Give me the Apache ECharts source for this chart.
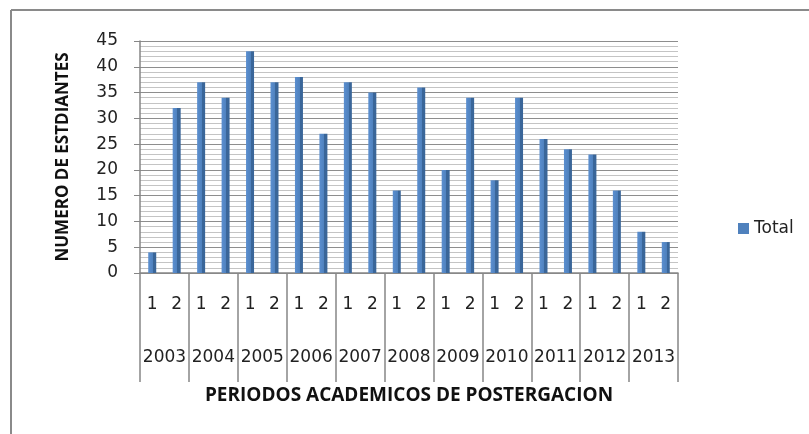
<!DOCTYPE html>
<html>
<head>
<meta charset="utf-8">
<script src="https://cdn.jsdelivr.net/npm/echarts@6/dist/echarts.min.js"></script>
<style>
  html, body { margin: 0; padding: 0; background: #fff; }
  #chart { width: 809px; height: 434px; }
</style>
</head>
<body>
<div id="chart"></div>
<script>
// periods inside each year, then the years themselves
const periods = ['1', '2', '1', '2', '1', '2', '1', '2', '1', '2', '1', '2', '1', '2', '1', '2', '1', '2', '1', '2', '1', '2']
const years = ['2003', '2004', '2005', '2006', '2007', '2008', '2009', '2010', '2011', '2012', '2013']
const totals = [4, 32, 37, 34, 43, 37, 38, 27, 37, 35, 16, 36, 20, 34, 18, 34, 26, 24, 23, 16, 8, 6]
const yTicks = { min: 0, max: 45, step: 5 }

const tickFont = 'DejaVu Sans'
const titleFont = 'Open Sans'
const axisGray = '#868686'

const chart = echarts.init(document.getElementById('chart'))

const barColor = new echarts.graphic.LinearGradient(0, 0, 1, 0, [
  { offset: 0, color: '#5b8fd0' },
  { offset: 0.6, color: '#4f81bd' },
  { offset: 0.6, color: '#3a6699' },
  { offset: 1, color: '#3a6699' }
])

chart.setOption({
  animation: false,
  grid: { left: 140, right: 131, top: 41, bottom: 161 },
  legend: {
    data: [{ name: 'Total', itemStyle: { color: '#4f81bd' } }],
    left: 733,
    top: 215,
    orient: 'vertical',
    icon: 'rect',
    itemWidth: 11,
    itemHeight: 11,
    itemGap: 7,
    textStyle: { fontFamily: tickFont, fontSize: 17, color: '#222' }
  },
  xAxis: [
    {
      type: 'category',
      data: periods,
      axisLine: { lineStyle: { color: axisGray, width: 1.5 } },
      axisTick: { show: false },
      axisLabel: { interval: 0, margin: 23, fontFamily: tickFont, fontSize: 17, color: '#222' }
    },
    {
      type: 'category',
      data: years,
      position: 'bottom',
      axisLine: { show: false },
      axisTick: { show: true, length: 109, lineStyle: { color: axisGray, width: 1.5 } },
      axisLabel: { interval: 0, margin: 76, fontFamily: tickFont, fontSize: 17, color: '#222' },
      name: 'PERIODOS ACADEMICOS DE POSTERGACION',
      nameLocation: 'middle',
      nameGap: 113,
      nameTextStyle: { fontFamily: titleFont, fontWeight: 'bold', fontSize: 19, color: '#111' }
    }
  ],
  yAxis: {
    type: 'value',
    min: yTicks.min,
    max: yTicks.max,
    interval: yTicks.step,
    name: 'NUMERO DE ESTDIANTES',
    nameLocation: 'middle',
    nameRotate: 90,
    nameGap: 68,
    nameTextStyle: { fontFamily: titleFont, fontWeight: 'bold', fontSize: 17, color: '#111' },
    axisLine: { show: true, lineStyle: { color: axisGray, width: 1.5 } },
    axisTick: { show: true, length: 6, lineStyle: { color: axisGray } },
    axisLabel: { margin: 22, fontFamily: tickFont, fontSize: 17, color: '#222' },
    splitLine: { lineStyle: { color: '#8e8e8e', width: 1.2 } },
    minorTick: { show: false, splitNumber: 5 },
    minorSplitLine: { show: true, lineStyle: { color: '#c4c4c4', width: 1 } }
  },
  series: [
    {
      name: 'Total',
      type: 'bar',
      xAxisIndex: 0,
      data: totals,
      barWidth: 8,
      itemStyle: { color: barColor }
    }
  ],
  graphic: [
    { type: 'line', shape: { x1: 11, y1: 10, x2: 809, y2: 10 }, style: { stroke: '#8a8a8a', lineWidth: 2 } },
    { type: 'line', shape: { x1: 11, y1: 10, x2: 11, y2: 434 }, style: { stroke: '#8a8a8a', lineWidth: 2 } }
  ]
})
</script>
</body>
</html>
